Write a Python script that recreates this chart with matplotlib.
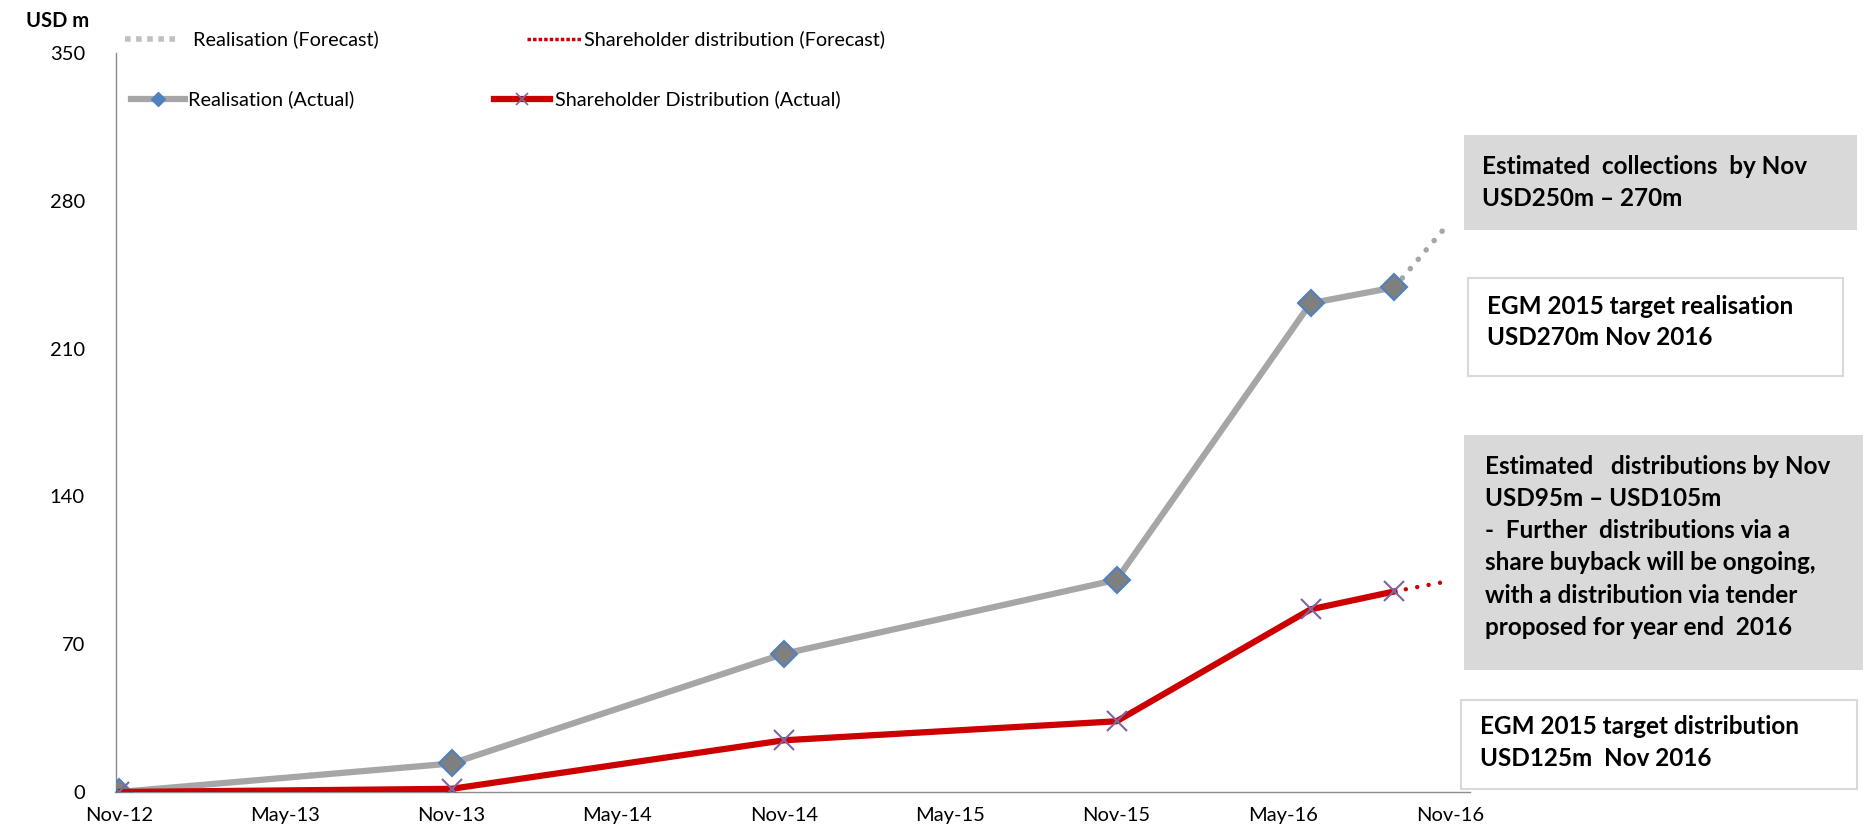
import pandas as pd
import matplotlib.pyplot as plt
from matplotlib.patches import Rectangle
from matplotlib.lines import Line2D

plt.rcParams['font.family'] = ['Lato', 'DejaVu Sans']

# Cumulative amounts, USD m
actual_dates = pd.to_datetime(["2012-11-30", "2013-11-30", "2014-11-30",
                               "2015-11-30", "2016-06-30", "2016-09-30"])
realisation = [0, 13.5, 65.5, 100.5, 231.5, 239]
distribution = [0, 1.5, 24.5, 33.5, 86.5, 95]

forecast_dates = pd.to_datetime(["2016-09-30", "2016-11-30"])
realisation_fc = [239, 270]
distribution_fc = [95, 100]

tick_dates = pd.date_range("2012-11-30", "2016-11-30", freq="6ME")
tick_labels = list(tick_dates.strftime("%b-%y"))
y_ticks = [0, 70, 140, 210, 280, 350]

GREY = '#a6a6a6'
RED = '#cc0000'
W, H = 1867, 831

fig = plt.figure(figsize=(W / 100, H / 100), dpi=100)
ax = fig.add_axes([115.5 / W, 39 / H, (1470 - 115.5) / W, (792 - 53) / H])

ax.plot(forecast_dates, realisation_fc, color=GREY, lw=4, linestyle=(0, (0.01, 2.2)),
        dash_capstyle='round', zorder=2)
ax.plot(forecast_dates, distribution_fc, color=RED, lw=3.2, linestyle=(0, (0.01, 2.6)),
        dash_capstyle='round', zorder=2)
ax.plot(actual_dates, realisation, color=GREY, lw=4.5, marker='D', markersize=13,
        markerfacecolor='#7f7f7f', markeredgecolor='#4f81bd', markeredgewidth=1.5, zorder=3)
ax.plot(actual_dates, distribution, color=RED, lw=4.5, marker='x', markersize=15,
        markeredgecolor='#8064a2', markeredgewidth=1.5, zorder=4)

ax.set_xlim(tick_dates[0] - pd.Timedelta(days=4), tick_dates[-1] + pd.Timedelta(days=22))
ax.set_ylim(0, 350)
ax.set_xticks(tick_dates)
ax.set_xticklabels(tick_labels)
ax.set_yticks(y_ticks)
ax.tick_params(length=0, labelsize=14.5)
ax.tick_params(axis='y', pad=22)
ax.tick_params(axis='x', pad=11)
for side in ['top', 'right']:
    ax.spines[side].set_visible(False)
for side in ['left', 'bottom']:
    ax.spines[side].set_color('#8c8c8c')
    ax.spines[side].set_linewidth(1)

fig.text(26 / W, 1 - 21 / H, 'USD m', fontsize=14.5, fontweight='bold', va='center')


def fx(x):
    return x / W


def fy(y):
    return 1 - y / H


# legend drawn by hand
def handle(x0, x1, y, **kw):
    fig.add_artist(Line2D([fx(x0), fx(x1)], [fy(y), fy(y)], transform=fig.transFigure, **kw))


LEG = 14.3
handle(125, 178, 39, color='#c0c0c0', lw=4, linestyle=(0, (1, 1)))
fig.text(fx(193), fy(39), 'Realisation (Forecast)', fontsize=LEG, va='center')
handle(527, 582, 39, color=RED, lw=2.5, linestyle=(0, (1, 0.6)))
fig.text(fx(584), fy(39), 'Shareholder distribution (Forecast)', fontsize=LEG, va='center')
handle(131, 185, 99, color=GREY, lw=4.5)
fig.add_artist(Line2D([fx(158)], [fy(99)], transform=fig.transFigure, marker='D',
                      markersize=7, markerfacecolor='#4f81bd', markeredgecolor='#4f81bd'))
fig.text(fx(188), fy(99), 'Realisation (Actual)', fontsize=LEG, va='center')
handle(494, 550, 99, color=RED, lw=4.5)
fig.add_artist(Line2D([fx(522)], [fy(99)], transform=fig.transFigure, marker='x',
                      markersize=9, markeredgecolor='#8064a2', markeredgewidth=1.2))
fig.text(fx(555), fy(99), 'Shareholder Distribution (Actual)', fontsize=LEG, va='center')


# annotation boxes
def box(x0, y0, x1, y1, face, edge, lines, tx, ty, step=32.5):
    fig.add_artist(Rectangle((fx(x0), fy(y1)), fx(x1 - x0), (y1 - y0) / H,
                             transform=fig.transFigure, facecolor=face,
                             edgecolor=edge, lw=1.5))
    for i, line in enumerate(lines):
        fig.text(fx(tx), fy(ty + i * step), line, fontsize=17.5, fontweight='bold',
                 va='center', ha='left')


box(1464, 135, 1857, 230, '#d9d9d9', 'none',
    ['Estimated  collections  by Nov', 'USD250m \u2013 270m'], 1482, 167, 31)
box(1468, 278, 1843, 376, 'white', '#d9d9d9',
    ['EGM 2015 target realisation', 'USD270m Nov 2016'], 1487, 306, 32)
box(1464, 435, 1863, 670, '#d9d9d9', 'none',
    ['Estimated   distributions by Nov', 'USD95m \u2013 USD105m',
     '-  Further  distributions via a', 'share buyback will be ongoing,',
     'with a distribution via tender', 'proposed for year end  2016'], 1485, 466, 32.3)
box(1461, 700, 1857, 789, 'white', '#d9d9d9',
    ['EGM 2015 target distribution', 'USD125m  Nov 2016'], 1480, 727, 32)

fig.savefig('out.png', dpi=100)
